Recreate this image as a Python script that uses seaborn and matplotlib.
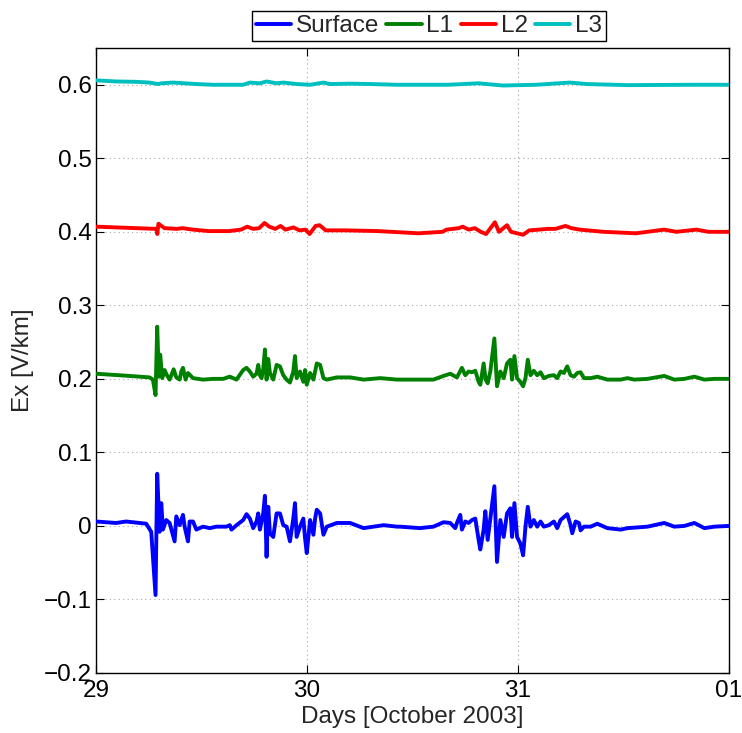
import numpy as np
import pandas as pd
import seaborn as sns
import matplotlib
matplotlib.use("Agg")
import matplotlib.pyplot as plt

# Time axis: hours since 29 October 2003 00:00 UT
tick_hours = [0, 24, 48, 72]
tick_labels = ["29", "30", "31", "01"]

surface_hours = [0.0, 2.28, 3.42, 5.71, 6.28, 6.77, 6.96, 7.23, 7.42, 7.61, 7.99, 8.37, 8.94, 9.13,
                 9.51, 9.89, 10.08, 10.46, 10.65, 11.03, 11.41, 12.17, 12.93, 13.69, 14.84, 15.22,
                 15.41, 15.98, 16.74, 17.12, 17.50, 17.88, 18.26, 18.45, 18.64, 19.02, 19.21, 19.40,
                 19.59, 19.78, 20.16, 20.54, 20.92, 21.30, 21.68, 22.06, 22.44, 22.63, 22.82, 23.20,
                 23.58, 23.78, 23.97, 24.35, 24.73, 24.92, 25.11, 25.49, 25.87, 26.25, 27.39, 28.91,
                 30.43, 31.57, 32.71, 34.24, 34.58, 36.86, 38.38, 39.53, 40.29, 40.86, 41.05, 41.43,
                 41.62, 42.00, 42.38, 42.76, 43.14, 43.52, 43.71, 44.09, 44.28, 44.55, 44.85, 45.31,
                 45.61, 45.99, 46.37, 46.75, 47.13, 47.32, 47.59, 47.89, 48.27, 48.58, 48.85, 49.11,
                 49.42, 49.80, 50.18, 50.56, 50.94, 51.51, 52.08, 52.46, 52.84, 53.22, 53.60, 53.98,
                 54.17, 54.55, 54.93, 55.12, 55.50, 56.26, 57.02, 58.16, 59.69, 60.45, 62.73, 64.63,
                 65.77, 66.92, 68.06, 69.20, 70.34, 72.0]
surface_ex = [0.006, 0.004, 0.006, 0.003, -0.008, -0.094, 0.071, -0.008, 0.031, -0.005, 0.008, 0.004,
              -0.021, 0.013, 0.001, 0.015, -0.001, -0.021, 0.006, 0.006, -0.005, -0.001, -0.003,
              -0.001, -0.001, 0.001, -0.005, 0.001, 0.008, 0.016, 0.010, -0.003, 0.006, 0.017,
              -0.005, 0.017, 0.041, -0.042, 0.026, -0.010, -0.015, 0.017, 0.017, 0.001, -0.001,
              -0.021, 0.010, 0.031, -0.015, -0.001, 0.010, -0.017, -0.037, 0.008, -0.012, 0.010,
              0.022, 0.017, -0.012, -0.001, 0.004, 0.004, -0.003, -0.001, 0.001, -0.001, -0.001,
              -0.003, -0.001, 0.005, 0.004, -0.003, 0.004, 0.015, -0.005, 0.006, 0.004, 0.008,
              0.010, -0.019, -0.032, -0.005, 0.020, -0.019, 0.010, 0.054, -0.049, 0.008, -0.015,
              0.017, 0.024, -0.015, 0.031, -0.015, -0.024, -0.040, -0.001, 0.026, -0.001, 0.008,
              -0.001, 0.006, -0.001, 0.001, 0.006, -0.003, 0.008, 0.012, 0.016, 0.001, -0.010,
              0.006, 0.004, -0.006, -0.001, -0.001, 0.003, -0.003, -0.005, -0.003, -0.001, 0.004,
              -0.001, 0.000, 0.004, -0.003, -0.001, 0.000]

l1_hours = [0.0, 3.80, 6.09, 6.47, 6.77, 6.96, 7.15, 7.30, 7.53, 7.80, 8.06, 8.37, 8.83, 9.13, 9.51,
            9.70, 9.89, 10.19, 10.46, 11.03, 12.17, 13.31, 14.46, 15.22, 15.98, 16.74, 17.12, 17.50,
            17.88, 18.26, 18.45, 18.64, 18.83, 19.02, 19.21, 19.40, 19.59, 19.78, 20.16, 20.54,
            20.92, 21.30, 21.68, 22.06, 22.44, 22.63, 22.82, 23.20, 23.58, 23.78, 23.97, 24.35,
            24.73, 24.92, 25.11, 25.49, 25.87, 26.25, 27.39, 28.91, 30.43, 32.33, 34.24, 36.86,
            38.38, 39.53, 40.29, 41.05, 41.62, 42.00, 42.38, 42.76, 43.14, 43.52, 43.71, 44.09,
            44.32, 44.55, 44.85, 45.31, 45.61, 45.99, 46.37, 46.75, 47.13, 47.32, 47.59, 47.89,
            48.27, 48.58, 48.85, 49.11, 49.42, 49.80, 50.18, 50.56, 50.94, 51.51, 52.08, 52.46,
            52.84, 53.22, 53.60, 53.98, 54.36, 54.74, 55.12, 55.50, 56.26, 57.02, 58.16, 59.69,
            60.45, 61.21, 62.73, 64.63, 65.77, 66.92, 68.06, 69.20, 70.34, 72.0]
l1_ex = [0.207, 0.204, 0.202, 0.199, 0.178, 0.271, 0.203, 0.233, 0.201, 0.212, 0.205, 0.199, 0.213,
         0.202, 0.199, 0.210, 0.215, 0.199, 0.208, 0.201, 0.199, 0.200, 0.200, 0.203, 0.199, 0.212,
         0.215, 0.210, 0.203, 0.207, 0.219, 0.205, 0.201, 0.213, 0.240, 0.199, 0.227, 0.208, 0.199,
         0.219, 0.217, 0.205, 0.199, 0.195, 0.210, 0.231, 0.201, 0.210, 0.196, 0.212, 0.192, 0.208,
         0.199, 0.210, 0.221, 0.219, 0.201, 0.199, 0.202, 0.202, 0.199, 0.201, 0.199, 0.199, 0.199,
         0.204, 0.207, 0.202, 0.215, 0.205, 0.210, 0.209, 0.211, 0.196, 0.192, 0.221, 0.199, 0.194,
         0.210, 0.255, 0.190, 0.210, 0.201, 0.221, 0.226, 0.199, 0.231, 0.201, 0.196, 0.190, 0.201,
         0.226, 0.205, 0.211, 0.205, 0.209, 0.201, 0.204, 0.205, 0.201, 0.210, 0.208, 0.217, 0.205,
         0.203, 0.208, 0.209, 0.201, 0.201, 0.203, 0.199, 0.199, 0.201, 0.199, 0.200, 0.204, 0.199,
         0.200, 0.203, 0.199, 0.200, 0.200]

l2_hours = [0.0, 4.58, 6.87, 6.97, 7.10, 7.79, 9.17, 9.85, 11.00, 12.83, 15.12, 16.50, 17.19, 17.87,
            18.56, 19.16, 19.71, 20.39, 20.99, 21.54, 22.46, 23.14, 23.83, 24.29, 24.98, 25.44,
            26.12, 28.41, 32.08, 36.66, 39.41, 39.87, 41.25, 41.71, 42.39, 43.08, 43.77, 44.36,
            44.68, 45.37, 45.83, 46.75, 47.20, 48.58, 49.27, 50.41, 51.33, 52.25, 53.39, 54.08,
            55.00, 57.75, 61.41, 64.62, 66.00, 68.29, 69.66, 72.0]
l2_ex = [0.407, 0.405, 0.404, 0.397, 0.411, 0.405, 0.404, 0.405, 0.403, 0.401, 0.401, 0.403, 0.407,
         0.404, 0.405, 0.412, 0.407, 0.404, 0.408, 0.403, 0.406, 0.402, 0.403, 0.397, 0.408, 0.409,
         0.402, 0.402, 0.401, 0.398, 0.400, 0.403, 0.405, 0.407, 0.403, 0.405, 0.400, 0.397, 0.402,
         0.413, 0.400, 0.409, 0.400, 0.396, 0.402, 0.403, 0.404, 0.404, 0.408, 0.405, 0.403, 0.400,
         0.398, 0.403, 0.400, 0.403, 0.400, 0.400]

l3_hours = [0.0, 2.28, 4.56, 6.09, 7.04, 7.42, 8.75, 11.41, 13.31, 16.74, 17.50, 18.64, 19.40, 20.54,
            21.30, 22.82, 24.35, 25.87, 26.63, 28.91, 31.19, 34.24, 36.0, 40.0, 43.5, 46.3, 50.0,
            53.9, 55.8, 60.5, 67.6, 72.0]
l3_ex = [0.606, 0.6045, 0.604, 0.603, 0.601, 0.602, 0.603, 0.601, 0.600, 0.600, 0.603, 0.602, 0.6045,
         0.602, 0.603, 0.601, 0.600, 0.603, 0.601, 0.6015, 0.601, 0.600, 0.600, 0.600, 0.602, 0.599,
         0.600, 0.603, 0.601, 0.5995, 0.600, 0.600]

series_names = ["Surface", "L1", "L2", "L3"]
series_colors = ["#0000ff", "#008000", "#ff0000", "#00bfbf"]

sns.set_style("white")
plt.rcParams["font.family"] = ["Liberation Sans", "DejaVu Sans"]

fig = plt.figure(figsize=(7.42, 7.33), dpi=100)
ax = fig.add_axes([0.1294, 0.0819, 0.8531, 0.8526])

frames = [
    pd.DataFrame({"hours": surface_hours, "ex": surface_ex}),
    pd.DataFrame({"hours": l1_hours, "ex": l1_ex}),
    pd.DataFrame({"hours": l2_hours, "ex": l2_ex}),
    pd.DataFrame({"hours": l3_hours, "ex": l3_ex}),
]
for name, color, df in zip(series_names, series_colors, frames):
    sns.lineplot(data=df, x="hours", y="ex", ax=ax, color=color, linewidth=2.8,
                 label=name, estimator=None, sort=True, zorder=3)

ax.set_xlim(0, 72)
ax.set_ylim(-0.2, 0.65)
ax.set_xticks(tick_hours)
ax.set_xticklabels(tick_labels)
ax.set_yticks(np.round(np.arange(-0.2, 0.61, 0.1), 1))
ax.set_yticklabels(["\u22120.2", "\u22120.1", "0", "0.1", "0.2", "0.3", "0.4", "0.5", "0.6"])

ax.grid(True, color="#a8a8a8", linestyle=(0, (1, 3)), linewidth=0.8, zorder=0)
ax.tick_params(direction="in", length=6, width=0.8, colors="black", labelsize=17.5,
               top=True, right=True, bottom=True, left=True, pad=3)
ax.tick_params(axis="x", pad=5)
for spine in ax.spines.values():
    spine.set_color("black")
    spine.set_linewidth(1.0)

ax.set_xlabel("Days [October 2003]", fontsize=17.5, labelpad=3)
ax.set_ylabel("Ex [V/km]", fontsize=17.5, labelpad=7)

handles, labels = ax.get_legend_handles_labels()
leg = ax.legend(handles, labels, loc="center", bbox_to_anchor=(0.578, 0.9645),
                bbox_transform=fig.transFigure, ncol=4, frameon=True, fancybox=False,
                edgecolor="black", framealpha=1, fontsize=17.5, columnspacing=0.3,
                handlelength=1.45, handletextpad=0.2, borderpad=0.15, borderaxespad=0)
leg.get_frame().set_linewidth(1.0)

fig.savefig("out.png", dpi=100)
